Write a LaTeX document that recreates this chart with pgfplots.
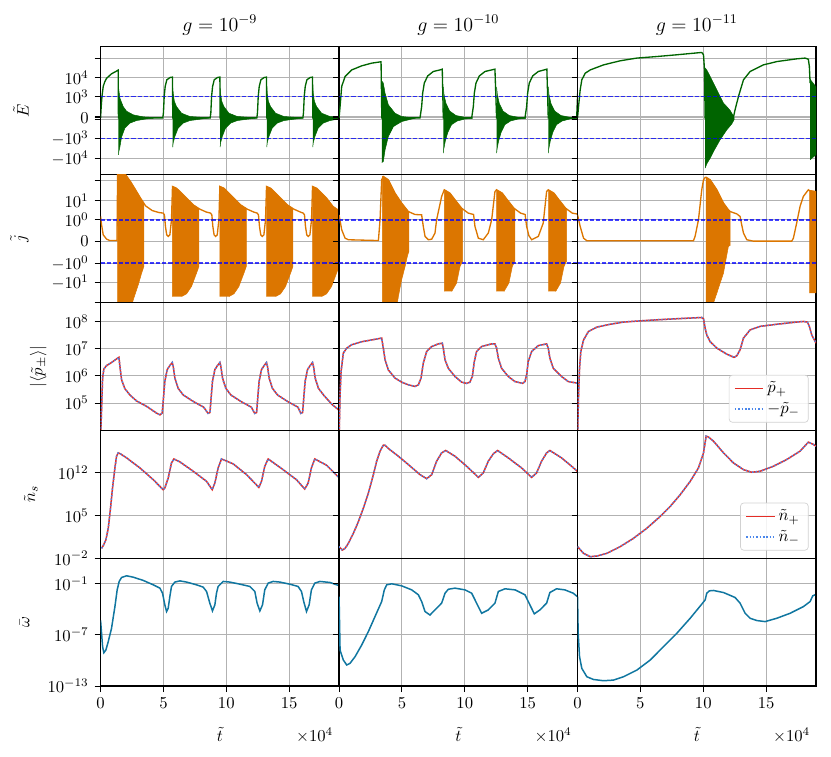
\documentclass[border=0pt]{standalone}
\usepackage{pgfplots}
\pgfplotsset{compat=1.18}
\usepgfplotslibrary{groupplots}

\definecolor{Egreen}{RGB}{0,100,0}
\definecolor{jorange}{RGB}{220,118,0}
\definecolor{pred}{RGB}{228,45,38}
\definecolor{pblue}{RGB}{75,135,235}
\definecolor{wteal}{RGB}{16,118,160}
\definecolor{gridgray}{RGB}{178,178,178}

% rows 1 and 2 are symlog axes: y is stored in symlog units
% (0 -> 0, +-10^k -> +-(k-2+0.08) for E, +-(k+1.1) for j)
\pgfplotsset{
  panel/.style={width=143.2pt, height=76.8pt, scale only axis,
    xmin=0, xmax=18.97, xtick={0,5,10,15}, xticklabels={}, yticklabels={},
    grid=major, grid style={color=gridgray, line width=0.6pt},
    tick align=outside, tick pos=left, major tick length=3.6pt,
    minor tick length=0pt, tick style={black, line width=0.6pt},
    axis line style={line width=0.8pt}, clip mode=individual,
    title style={font=\large, yshift=-2.5pt},
    legend style={at={(0.969,0.06)}, anchor=south east, draw=black!18,
      rounded corners=2pt, fill=white, fill opacity=0.85, text opacity=1,
      font=\normalsize, inner xsep=3pt, inner ysep=2pt, row sep=0pt},
    legend cell align=left},
  Erow/.style={/pgfplots/ymin=-2.92, /pgfplots/ymax=3.67,
    /pgfplots/ytick={-2.08,-1.08,-0.09,0,0.09,1.08,2.08,3.08}},
  Elab/.style={/pgfplots/ylabel={$\tilde{E}$},
    /pgfplots/ylabel style={at={(ticklabel cs:0.5,7pt)}},
    /pgfplots/yticklabels={{$-10^{4}$},{$-10^{3}$},{},{$0$},{},{$10^{3}$},{$10^{4}$},{}}},
  Jrow/.style={/pgfplots/ymin=-3.11, /pgfplots/ymax=3.42, /pgfplots/ytick={-3.1,-2.1,-1.1,0,1.1,2.1,3.1}},
  Jlab/.style={/pgfplots/ylabel={$\tilde{j}$},
    /pgfplots/ylabel style={at={(ticklabel cs:0.5,7pt)}},
    /pgfplots/yticklabels={{},{$-10^{1}$},{$-10^{0}$},{$0$},{$10^{0}$},{$10^{1}$},{}}},
  Prow/.style={/pgfplots/ymin=1e4, /pgfplots/ymax=5e8, /pgfplots/ytick={1e5,1e6,1e7,1e8}},
  Plab/.style={/pgfplots/ylabel={$|\langle\tilde{p}_\pm\rangle|$},
    /pgfplots/ylabel style={at={(ticklabel cs:0.5,4pt)}},
    /pgfplots/yticklabels={$10^{5}$,$10^{6}$,$10^{7}$,$10^{8}$}},
  Nrow/.style={/pgfplots/ymin=1e-2, /pgfplots/ymax=1e19, /pgfplots/ytick={1e-2,1e5,1e12}},
  Nlab/.style={/pgfplots/ylabel={$\tilde{n}_s$},
    /pgfplots/ylabel style={at={(ticklabel cs:0.5,3pt)}},
    /pgfplots/yticklabels={$10^{-2}$,$10^{5}$,$10^{12}$}},
  Wrow/.style={/pgfplots/ymin=1e-13, /pgfplots/ymax=1e2, /pgfplots/ytick={1e-13,1e-7,1e-1},
    /pgfplots/xticklabels={$0$,$5$,$10$,$15$}, /pgfplots/xlabel={$\tilde{t}$},
    /pgfplots/xlabel style={at={(axis description cs:0.5,0)}, anchor=base, yshift=-33.2pt}},
  Wlab/.style={/pgfplots/ylabel={$\bar{\omega}$},
    /pgfplots/ylabel style={at={(ticklabel cs:0.5,4pt)}},
    /pgfplots/yticklabels={$10^{-13}$,$10^{-7}$,$10^{-1}$}},
  Eline/.style={Egreen, line width=0.8pt},
  Efill/.style={fill=Egreen, draw=Egreen, line width=0.3pt},
  jline/.style={jorange, line width=0.8pt},
  jfill/.style={fill=jorange, draw=jorange, line width=0.3pt},
  thr/.style={blue, opacity=0.75, line width=0.7pt, dash pattern=on 2.5pt off 1.2pt},
  pl/.style={pred, line width=0.9pt},
  mi/.style={pblue, line width=0.9pt, dash pattern=on 0.8pt off 1.2pt},
  wl/.style={wteal, line width=0.9pt},
}

\begin{document}
\begin{tikzpicture}
\begin{groupplot}[group style={group size=3 by 5, horizontal sep=0pt, vertical sep=0pt}, panel]

% ---------------- row 1: E ----------------
\nextgroupplot[Erow, Elab, title={$g=10^{-9}$}]
\coordinate (TL) at (rel axis cs:0,1);
\addplot[Eline] coordinates {(0,0)(0.05,0.58)(0.11,1.10)(0.21,1.62)(0.34,1.87)(0.48,2.04)(0.87,2.27)(1.27,2.41)(1.40,2.46)(1.42,0)(4.95,0)(5.00,0.26)(5.06,1.1)(5.14,1.62)(5.27,1.96)(5.53,2.08)(5.72,2.10)(5.74,0)(8.72,0)(8.77,0.26)(8.83,1.1)(8.91,1.62)(9.04,1.96)(9.30,2.08)(9.49,2.10)(9.51,0)(12.43,0)(12.48,0.26)(12.54,1.1)(12.62,1.62)(12.75,1.96)(13.01,2.08)(13.20,2.10)(13.22,0)(16.09,0)(16.14,0.26)(16.20,1.1)(16.28,1.62)(16.41,1.96)(16.67,2.08)(16.86,2.10)(16.88,0)(18.97,0)};
\addplot[Efill] coordinates {(1.42,1.7)(1.45,1.44)(1.54,1.01)(1.80,0.58)(2.07,0.34)(2.60,0.155)(3.39,0.05)(4.19,0.017)(4.19,-0.02)(3.66,-0.05)(2.86,-0.14)(2.33,-0.27)(1.93,-0.53)(1.67,-0.99)(1.54,-1.48)(1.45,-1.75)(1.42,-1.91)};
\addplot[Efill] coordinates {(5.74,1.55)(5.77,1.27)(5.87,0.85)(6.04,0.58)(6.44,0.24)(7.10,0.07)(7.92,0.03)(8.62,0.01)(8.62,-0.01)(7.89,-0.07)(7.10,-0.14)(6.57,-0.27)(6.17,-0.53)(5.91,-0.96)(5.77,-1.3)(5.74,-1.51)};
\addplot[Efill] coordinates {(9.51,1.55)(9.54,1.27)(9.64,0.85)(9.81,0.58)(10.21,0.24)(10.87,0.07)(11.69,0.03)(12.39,0.01)(12.39,-0.01)(11.66,-0.07)(10.87,-0.14)(10.34,-0.27)(9.94,-0.53)(9.68,-0.96)(9.54,-1.3)(9.51,-1.51)};
\addplot[Efill] coordinates {(13.22,1.55)(13.25,1.27)(13.35,0.85)(13.52,0.58)(13.92,0.24)(14.58,0.07)(15.40,0.03)(16.10,0.01)(16.10,-0.01)(15.37,-0.07)(14.58,-0.14)(14.05,-0.27)(13.65,-0.53)(13.39,-0.96)(13.25,-1.3)(13.22,-1.51)};
\addplot[Efill] coordinates {(16.88,1.55)(16.91,1.27)(17.01,0.85)(17.18,0.58)(17.58,0.24)(18.24,0.07)(19.0,0.03)(19.0,-0.05)(18.24,-0.14)(17.71,-0.27)(17.31,-0.53)(17.05,-0.96)(16.91,-1.3)(16.88,-1.51)};
\addplot[thr] coordinates {(0,1.08)(18.97,1.08)};
\addplot[thr] coordinates {(0,-1.08)(18.97,-1.08)};

\nextgroupplot[Erow, title={$g=10^{-10}$}]
\addplot[Eline] coordinates {(0,0)(0.08,0.58)(0.21,1.62)(0.48,2.13)(1.01,2.47)(1.80,2.68)(2.60,2.82)(3.34,2.89)(3.40,0)(6.44,0)(6.57,0.58)(6.65,1.27)(6.78,1.79)(7.05,2.16)(7.50,2.39)(8.03,2.47)(8.21,2.51)(8.29,0)(10.55,0)(10.68,0.58)(10.76,1.27)(10.89,1.79)(11.16,2.16)(11.61,2.39)(12.14,2.47)(12.40,2.51)(12.53,0)(14.79,0)(14.92,0.58)(15.0,1.27)(15.13,1.79)(15.40,2.16)(15.85,2.39)(16.32,2.47)(16.53,2.51)(16.64,0)(18.90,0)(18.95,0.8)(18.99,1.4)};
\addplot[Efill] coordinates {(3.40,1.9)(3.52,1.79)(3.66,1.27)(3.92,0.67)(4.45,0.24)(4.98,0.07)(5.78,0.01)(6.04,-0.02)(4.98,-0.19)(4.32,-0.45)(3.92,-0.96)(3.66,-1.65)(3.52,-2.25)(3.40,-2.3)};
\addplot[Efill] coordinates {(8.29,1.6)(8.35,1.2)(8.5,0.75)(8.8,0.35)(9.3,0.12)(10.0,0.03)(10.6,0.01)(10.6,-0.02)(10.0,-0.06)(9.4,-0.16)(8.95,-0.35)(8.65,-0.75)(8.45,-1.2)(8.33,-1.6)(8.29,-1.82)};
\addplot[Efill] coordinates {(12.53,1.6)(12.59,1.2)(12.74,0.75)(13.04,0.35)(13.54,0.12)(14.24,0.03)(14.84,0.01)(14.84,-0.02)(14.24,-0.06)(13.64,-0.16)(13.19,-0.35)(12.89,-0.75)(12.69,-1.2)(12.57,-1.6)(12.53,-1.82)};
\addplot[Efill] coordinates {(16.64,1.6)(16.70,1.2)(16.85,0.75)(17.15,0.35)(17.65,0.12)(18.35,0.03)(18.95,0.01)(18.95,-0.02)(18.35,-0.06)(17.75,-0.16)(17.30,-0.35)(17.0,-0.75)(16.80,-1.2)(16.68,-1.6)(16.64,-1.82)};
\addplot[thr] coordinates {(0,1.08)(18.97,1.08)};
\addplot[thr] coordinates {(0,-1.08)(18.97,-1.08)};

\nextgroupplot[Erow, title={$g=10^{-11}$}]
\addplot[Eline] coordinates {(0,0)(0.08,0.58)(0.21,1.44)(0.34,1.96)(0.61,2.30)(1.01,2.47)(2.07,2.73)(3.39,2.94)(4.72,3.08)(6.31,3.16)(7.90,3.25)(9.22,3.33)(9.88,3.37)(10.02,3.25)(10.10,2.47)(10.15,0)(12.40,0.03)(12.53,0.41)(12.80,1.10)(13.20,1.96)(13.73,2.39)(14.79,2.73)(15.85,2.90)(17.43,3.04)(18.10,3.08)(18.36,3.02)(18.44,2.65)(18.50,1.79)};
\addplot[Efill] coordinates {(10.15,2.56)(10.28,2.47)(10.55,2.13)(10.81,1.79)(11.08,1.44)(11.34,1.10)(11.61,0.76)(11.87,0.58)(12.14,0.38)(12.35,0.15)(12.45,0)(12.45,-0.1)(12.27,-0.31)(11.87,-0.62)(11.34,-1.13)(10.81,-1.74)(10.55,-2.08)(10.28,-2.37)(10.15,-2.59)};
\addplot[Efill] coordinates {(18.50,2.0)(18.6,1.9)(18.97,1.6)(18.97,-1.9)(18.6,-2.1)(18.50,-2.16)};
\addplot[thr] coordinates {(0,1.08)(18.97,1.08)};
\addplot[thr] coordinates {(0,-1.08)(18.97,-1.08)};

% ---------------- row 2: j ----------------
\nextgroupplot[Jrow, Jlab]
\addplot[jline] coordinates {(0,1.28)(0.08,0.85)(0.21,0.34)(0.48,0.12)(0.74,0.05)(1.30,0.05)(1.36,3.6)(1.98,3.42)(2.38,3.06)(2.78,2.64)(3.18,2.21)(3.58,1.82)(4.11,1.58)(4.64,1.48)(4.98,1.45)(5.08,1.36)(5.16,0.77)(5.26,0.34)(5.38,0.26)(5.51,0.34)(5.64,1.11)(5.72,2.81)(6.04,2.72)(6.44,2.47)(6.84,2.21)(7.37,1.87)(7.90,1.65)(8.43,1.50)(8.75,1.45)(8.85,1.36)(8.93,0.77)(9.03,0.34)(9.15,0.26)(9.28,0.34)(9.41,1.11)(9.49,2.81)(9.81,2.72)(10.21,2.47)(10.61,2.21)(11.14,1.87)(11.67,1.65)(12.20,1.50)(12.46,1.45)(12.56,1.36)(12.64,0.77)(12.74,0.34)(12.86,0.26)(12.99,0.34)(13.12,1.11)(13.20,2.81)(13.52,2.72)(13.92,2.47)(14.32,2.21)(14.85,1.87)(15.38,1.65)(15.91,1.50)(16.12,1.45)(16.22,1.36)(16.30,0.77)(16.40,0.34)(16.52,0.26)(16.65,0.34)(16.78,1.11)(16.86,2.81)(17.18,2.72)(17.58,2.47)(17.98,2.21)(18.51,1.75)(18.97,1.5)};
\addplot[jfill] coordinates {(1.36,-3.6)(1.36,3.6)(1.98,3.42)(2.38,3.06)(2.78,2.64)(3.18,2.21)(3.44,1.95)(3.44,-1.28)(3.26,-1.62)(3.0,-2.21)(2.60,-2.98)(2.38,-3.49)(2.2,-3.6)};
\addplot[jfill] coordinates {(5.72,-2.81)(5.72,2.81)(6.04,2.72)(6.44,2.47)(6.84,2.21)(7.37,1.87)(7.82,1.67)(7.82,-1.28)(7.63,-1.62)(7.23,-2.30)(6.84,-2.67)(6.44,-2.81)};
\addplot[jfill] coordinates {(9.49,-2.81)(9.49,2.81)(9.81,2.72)(10.21,2.47)(10.61,2.21)(11.14,1.87)(11.59,1.67)(11.59,-1.28)(11.40,-1.62)(11.00,-2.30)(10.61,-2.67)(10.21,-2.81)};
\addplot[jfill] coordinates {(13.20,-2.81)(13.20,2.81)(13.52,2.72)(13.92,2.47)(14.32,2.21)(14.85,1.87)(15.30,1.67)(15.30,-1.28)(15.11,-1.62)(14.71,-2.30)(14.32,-2.67)(13.92,-2.81)};
\addplot[jfill] coordinates {(16.86,-2.81)(16.86,2.81)(17.18,2.72)(17.58,2.47)(17.98,2.21)(18.51,1.80)(18.97,1.6)(18.97,-1.28)(18.77,-1.62)(18.37,-2.30)(17.98,-2.67)(17.58,-2.81)};
\addplot[thr] coordinates {(0,1.1)(18.97,1.1)};
\addplot[thr] coordinates {(0,-1.1)(18.97,-1.1)};

\nextgroupplot[Jrow]
\addplot[jline] coordinates {(0,1.36)(0.21,0.60)(0.48,0.17)(0.74,0.09)(3.13,0.05)(3.26,1.11)(3.39,3.15)(3.52,3.32)(3.92,3.15)(4.45,2.47)(4.98,1.96)(5.51,1.53)(6.04,1.38)(6.57,1.36)(6.70,0.77)(6.84,0.26)(7.10,0.09)(7.37,0.12)(7.63,0.43)(7.76,1.11)(8.16,2.30)(8.37,2.64)(8.82,2.47)(9.22,2.13)(9.75,1.70)(10.28,1.45)(10.7,1.38)(10.81,0.77)(11.08,0.17)(11.47,0.09)(11.87,0.43)(12.14,1.11)(12.40,2.55)(12.53,2.64)(12.98,2.47)(13.38,2.13)(13.91,1.70)(14.44,1.45)(14.8,1.38)(14.92,0.77)(15.10,0.3)(15.32,0.09)(15.85,0.26)(16.24,0.94)(16.51,2.55)(16.64,2.64)(17.09,2.47)(17.49,2.13)(18.02,1.70)(18.55,1.45)(18.97,1.40)};
\addplot[jfill] coordinates {(3.45,-3.5)(3.45,3.32)(3.52,3.32)(3.92,3.15)(4.45,2.47)(4.98,1.96)(5.51,1.53)(5.56,1.52)(5.56,-0.51)(5.46,-0.68)(5.25,-1.28)(4.98,-1.95)(4.72,-2.8)(4.55,-3.5)};
\addplot[jfill] coordinates {(8.37,-2.55)(8.37,2.64)(8.82,2.47)(9.22,2.13)(9.75,1.70)(9.83,1.66)(9.83,-1.0)(9.62,-1.28)(9.35,-2.12)(8.96,-2.55)};
\addplot[jfill] coordinates {(12.53,-2.55)(12.53,2.64)(12.98,2.47)(13.38,2.13)(13.91,1.70)(13.99,1.66)(13.99,-1.0)(13.78,-1.28)(13.51,-2.12)(13.12,-2.55)};
\addplot[jfill] coordinates {(16.64,-2.55)(16.64,2.64)(17.09,2.47)(17.49,2.13)(18.02,1.70)(18.10,1.66)(18.10,-1.0)(17.89,-1.28)(17.62,-2.12)(17.23,-2.55)};
\addplot[thr] coordinates {(0,1.1)(18.97,1.1)};
\addplot[thr] coordinates {(0,-1.1)(18.97,-1.1)};

\nextgroupplot[Jrow]
\addplot[jline] coordinates {(0,1.36)(0.21,0.77)(0.48,0.17)(0.74,0.04)(9.22,0.04)(9.35,0.26)(9.62,1.11)(9.88,2.64)(10.02,3.15)(10.15,3.27)(10.23,3.28)(10.55,3.15)(11.08,2.64)(11.61,1.96)(12.0,1.62)(12.14,1.53)(12.67,1.41)(12.93,1.28)(13.06,0.85)(13.20,0.43)(13.46,0.09)(13.99,0.02)(17.04,0.02)(17.17,0.17)(17.43,0.94)(17.70,1.79)(17.96,2.30)(18.36,2.64)(18.44,2.60)(18.97,2.55)};
\addplot[jfill] coordinates {(10.23,-3.4)(10.23,3.28)(10.55,3.15)(11.08,2.64)(11.61,1.96)(12.0,1.62)(12.14,1.53)(12.14,-0.2)(12.0,-0.25)(11.61,-1.61)(11.08,-2.64)(10.68,-3.4)};
\addplot[jfill] coordinates {(18.47,-2.64)(18.47,2.6)(18.97,2.55)(18.97,-2.64)};
\addplot[thr] coordinates {(0,1.1)(18.97,1.1)};
\addplot[thr] coordinates {(0,-1.1)(18.97,-1.1)};

% ---------------- row 3: p ----------------
\nextgroupplot[ymode=log, Prow, Plab]
\addplot[pl] coordinates {(0,5e3)(0.16,8.3e5)(0.26,1.8e6)(0.48,2.4e6)(0.87,3.1e6)(1.27,4.2e6)(1.46,4.8e6)(1.54,2.2e6)(1.67,7.2e5)(1.93,3.4e5)(2.33,2.0e5)(2.86,1.2e5)(3.66,7.6e4)(4.45,4.3e4)(4.72,3.7e4)(4.90,4.3e4)(4.98,1.15e5)(5.11,6.3e5)(5.30,1.7e6)(5.51,2.4e6)(5.70,3.1e6)(5.78,2.2e6)(5.91,8.3e5)(6.17,3.5e5)(6.57,2.0e5)(7.37,1.15e5)(8.20,7.1e4)(8.55,4.2e4)(8.70,4.5e4)(8.77,1.15e5)(8.90,6.3e5)(9.09,1.7e6)(9.30,2.4e6)(9.49,3.1e6)(9.57,2.2e6)(9.70,8.3e5)(9.96,3.5e5)(10.36,2.0e5)(11.16,1.15e5)(11.99,7.1e4)(12.26,4.2e4)(12.41,4.5e4)(12.48,1.15e5)(12.61,6.3e5)(12.80,1.7e6)(13.01,2.4e6)(13.20,3.1e6)(13.28,2.2e6)(13.41,8.3e5)(13.67,3.5e5)(14.07,2.0e5)(14.87,1.15e5)(15.70,7.1e4)(15.92,4.2e4)(16.07,4.5e4)(16.14,1.15e5)(16.27,6.3e5)(16.46,1.7e6)(16.67,2.4e6)(16.86,3.1e6)(16.94,2.2e6)(17.07,8.3e5)(17.33,3.5e5)(17.73,2.0e5)(18.40,9e4)(18.97,5.5e4)};
\addplot[mi] coordinates {(0,5e3)(0.16,8.3e5)(0.26,1.8e6)(0.48,2.4e6)(0.87,3.1e6)(1.27,4.2e6)(1.46,4.8e6)(1.54,2.2e6)(1.67,7.2e5)(1.93,3.4e5)(2.33,2.0e5)(2.86,1.2e5)(3.66,7.6e4)(4.45,4.3e4)(4.72,3.7e4)(4.90,4.3e4)(4.98,1.15e5)(5.11,6.3e5)(5.30,1.7e6)(5.51,2.4e6)(5.70,3.1e6)(5.78,2.2e6)(5.91,8.3e5)(6.17,3.5e5)(6.57,2.0e5)(7.37,1.15e5)(8.20,7.1e4)(8.55,4.2e4)(8.70,4.5e4)(8.77,1.15e5)(8.90,6.3e5)(9.09,1.7e6)(9.30,2.4e6)(9.49,3.1e6)(9.57,2.2e6)(9.70,8.3e5)(9.96,3.5e5)(10.36,2.0e5)(11.16,1.15e5)(11.99,7.1e4)(12.26,4.2e4)(12.41,4.5e4)(12.48,1.15e5)(12.61,6.3e5)(12.80,1.7e6)(13.01,2.4e6)(13.20,3.1e6)(13.28,2.2e6)(13.41,8.3e5)(13.67,3.5e5)(14.07,2.0e5)(14.87,1.15e5)(15.70,7.1e4)(15.92,4.2e4)(16.07,4.5e4)(16.14,1.15e5)(16.27,6.3e5)(16.46,1.7e6)(16.67,2.4e6)(16.86,3.1e6)(16.94,2.2e6)(17.07,8.3e5)(17.33,3.5e5)(17.73,2.0e5)(18.40,9e4)(18.97,5.5e4)};

\nextgroupplot[ymode=log, Prow]
\addplot[pl] coordinates {(0,5e3)(0.08,2.0e5)(0.16,1.45e6)(0.34,6.9e6)(0.61,1.05e7)(1.01,1.4e7)(1.80,1.8e7)(2.60,2.1e7)(3.39,2.45e7)(3.52,1.05e7)(3.66,3.9e6)(3.92,1.66e6)(4.45,8.3e5)(4.98,5.9e5)(5.51,4.7e5)(6.04,4.1e5)(6.31,4.7e5)(6.52,8.3e5)(6.70,2.95e6)(6.97,7.9e6)(7.37,1.2e7)(7.90,1.5e7)(8.21,1.6e7)(8.29,1.05e7)(8.43,3.9e6)(8.69,1.9e6)(9.22,9.5e5)(9.75,5.9e5)(10.15,5.3e5)(10.41,5.9e5)(10.60,9.5e5)(10.76,3.4e6)(10.94,7.9e6)(11.34,1.2e7)(12.14,1.5e7)(12.40,1.5e7)(12.53,1.05e7)(12.67,4.5e6)(12.93,1.9e6)(13.46,9.5e5)(13.99,6.2e5)(14.60,5.3e5)(14.79,6.2e5)(14.92,1.1e6)(15.05,3.4e6)(15.32,7.9e6)(15.85,1.3e7)(16.51,1.5e7)(16.64,1.05e7)(16.77,4.5e6)(17.04,1.9e6)(17.70,9.5e5)(18.23,6.2e5)(18.97,5.4e5)};
\addplot[mi] coordinates {(0,5e3)(0.08,2.0e5)(0.16,1.45e6)(0.34,6.9e6)(0.61,1.05e7)(1.01,1.4e7)(1.80,1.8e7)(2.60,2.1e7)(3.39,2.45e7)(3.52,1.05e7)(3.66,3.9e6)(3.92,1.66e6)(4.45,8.3e5)(4.98,5.9e5)(5.51,4.7e5)(6.04,4.1e5)(6.31,4.7e5)(6.52,8.3e5)(6.70,2.95e6)(6.97,7.9e6)(7.37,1.2e7)(7.90,1.5e7)(8.21,1.6e7)(8.29,1.05e7)(8.43,3.9e6)(8.69,1.9e6)(9.22,9.5e5)(9.75,5.9e5)(10.15,5.3e5)(10.41,5.9e5)(10.60,9.5e5)(10.76,3.4e6)(10.94,7.9e6)(11.34,1.2e7)(12.14,1.5e7)(12.40,1.5e7)(12.53,1.05e7)(12.67,4.5e6)(12.93,1.9e6)(13.46,9.5e5)(13.99,6.2e5)(14.60,5.3e5)(14.79,6.2e5)(14.92,1.1e6)(15.05,3.4e6)(15.32,7.9e6)(15.85,1.3e7)(16.51,1.5e7)(16.64,1.05e7)(16.77,4.5e6)(17.04,1.9e6)(17.70,9.5e5)(18.23,6.2e5)(18.97,5.4e5)};

\nextgroupplot[ymode=log, Prow]
\addplot[pl] coordinates {(0,5e3)(0.08,2.0e5)(0.16,1.9e6)(0.26,7.9e6)(0.48,2.1e7)(0.87,4.3e7)(1.54,6.2e7)(2.60,7.9e7)(3.66,9.5e7)(4.98,1.05e8)(6.31,1.15e8)(7.90,1.26e8)(9.22,1.35e8)(9.88,1.4e8)(10.02,1.26e8)(10.15,5.6e7)(10.28,3.2e7)(10.55,1.8e7)(11.08,1.05e7)(11.87,6.3e6)(12.45,4.8e6)(12.67,5.5e6)(12.93,9.1e6)(13.20,2.45e7)(13.73,4.9e7)(14.52,6.6e7)(15.85,7.9e7)(17.43,9.5e7)(17.96,1.0e8)(18.28,9.5e7)(18.44,6.6e7)(18.63,3.2e7)(18.97,1.6e7)};
\addplot[mi] coordinates {(0,5e3)(0.08,2.0e5)(0.16,1.9e6)(0.26,7.9e6)(0.48,2.1e7)(0.87,4.3e7)(1.54,6.2e7)(2.60,7.9e7)(3.66,9.5e7)(4.98,1.05e8)(6.31,1.15e8)(7.90,1.26e8)(9.22,1.35e8)(9.88,1.4e8)(10.02,1.26e8)(10.15,5.6e7)(10.28,3.2e7)(10.55,1.8e7)(11.08,1.05e7)(11.87,6.3e6)(12.45,4.8e6)(12.67,5.5e6)(12.93,9.1e6)(13.20,2.45e7)(13.73,4.9e7)(14.52,6.6e7)(15.85,7.9e7)(17.43,9.5e7)(17.96,1.0e8)(18.28,9.5e7)(18.44,6.6e7)(18.63,3.2e7)(18.97,1.6e7)};
\legend{$\tilde{p}_+$,$-\tilde{p}_-$}

% ---------------- row 4: n ----------------
\nextgroupplot[ymode=log, Nrow, Nlab]
\addplot[pl] coordinates {(0.08,0.42)(0.21,1.15)(0.42,10)(0.61,830)(0.79,1.66e6)(0.95,3.3e9)(1.14,6.7e12)(1.27,5.6e14)(1.40,2.0e15)(1.54,1.55e15)(2.07,3.0e14)(3.13,6.7e12)(4.19,7.9e10)(4.98,1.8e9)(5.11,3.3e9)(5.38,1.5e11)(5.64,4.5e13)(5.83,2.0e14)(6.31,6.6e13)(7.37,1.9e12)(8.43,4.2e10)(8.88,1.8e9)(9.09,2.2e10)(9.35,6.7e12)(9.62,2.0e14)(10.55,3.1e13)(11.61,5.3e11)(12.59,4.3e9)(12.80,4.2e10)(13.06,1.26e13)(13.33,2.0e14)(14.52,3.5e12)(15.58,7.9e10)(16.24,2.3e9)(16.51,2.2e10)(16.77,6.7e12)(17.04,2.0e14)(17.97,1.9e13)(18.95,1.9e11)};
\addplot[mi] coordinates {(0.08,0.42)(0.21,1.15)(0.42,10)(0.61,830)(0.79,1.66e6)(0.95,3.3e9)(1.14,6.7e12)(1.27,5.6e14)(1.40,2.0e15)(1.54,1.55e15)(2.07,3.0e14)(3.13,6.7e12)(4.19,7.9e10)(4.98,1.8e9)(5.11,3.3e9)(5.38,1.5e11)(5.64,4.5e13)(5.83,2.0e14)(6.31,6.6e13)(7.37,1.9e12)(8.43,4.2e10)(8.88,1.8e9)(9.09,2.2e10)(9.35,6.7e12)(9.62,2.0e14)(10.55,3.1e13)(11.61,5.3e11)(12.59,4.3e9)(12.80,4.2e10)(13.06,1.26e13)(13.33,2.0e14)(14.52,3.5e12)(15.58,7.9e10)(16.24,2.3e9)(16.51,2.2e10)(16.77,6.7e12)(17.04,2.0e14)(17.97,1.9e13)(18.95,1.9e11)};

\nextgroupplot[ymode=log, Nrow]
\addplot[pl] coordinates {(0,0.8)(0.08,0.54)(0.26,0.22)(0.48,0.42)(0.74,2.8)(1.14,126)(1.54,1.05e4)(1.93,1.66e6)(2.33,5.0e8)(2.73,5.3e11)(2.99,8.5e13)(3.26,3.8e15)(3.52,3.7e16)(3.66,3.5e16)(3.92,1.05e16)(4.72,5.6e14)(5.51,2.4e13)(6.44,5.3e11)(6.97,1.15e11)(7.37,5.3e11)(7.76,8.5e13)(8.16,2.0e15)(8.48,4.9e15)(9.22,5.6e14)(10.15,1.26e13)(11.08,1.9e11)(11.47,1.0e12)(11.87,8.5e13)(12.27,1.4e15)(12.61,4.9e15)(13.46,3.0e14)(14.52,6.7e12)(15.32,1.9e11)(15.71,1.0e12)(16.11,8.5e13)(16.51,2.0e15)(16.77,4.9e15)(17.70,3.0e14)(18.50,1.26e13)(18.95,1.9e12)};
\addplot[mi] coordinates {(0,0.8)(0.08,0.54)(0.26,0.22)(0.48,0.42)(0.74,2.8)(1.14,126)(1.54,1.05e4)(1.93,1.66e6)(2.33,5.0e8)(2.73,5.3e11)(2.99,8.5e13)(3.26,3.8e15)(3.52,3.7e16)(3.66,3.5e16)(3.92,1.05e16)(4.72,5.6e14)(5.51,2.4e13)(6.44,5.3e11)(6.97,1.15e11)(7.37,5.3e11)(7.76,8.5e13)(8.16,2.0e15)(8.48,4.9e15)(9.22,5.6e14)(10.15,1.26e13)(11.08,1.9e11)(11.47,1.0e12)(11.87,8.5e13)(12.27,1.4e15)(12.61,4.9e15)(13.46,3.0e14)(14.52,6.7e12)(15.32,1.9e11)(15.71,1.0e12)(16.11,8.5e13)(16.51,2.0e15)(16.77,4.9e15)(17.70,3.0e14)(18.50,1.26e13)(18.95,1.9e12)};

\nextgroupplot[ymode=log, Nrow]
\addplot[pl] coordinates {(0,0.8)(0.48,0.063)(1.01,0.018)(1.54,0.023)(2.33,0.063)(3.39,0.8)(4.45,18.6)(5.51,830)(6.57,7.1e4)(7.37,3.2e6)(8.16,2.6e8)(8.96,4.2e10)(9.62,6.7e12)(10.02,2.0e15)(10.23,1.1e18)(10.42,7.8e17)(10.81,1.7e17)(11.61,2.0e15)(12.40,4.5e13)(13.20,3.5e12)(13.86,1.3e12)(14.52,1.9e12)(15.58,1.26e13)(16.64,1.6e14)(17.70,3.8e15)(18.36,1.15e17)(18.76,4.8e16)(18.97,2.5e16)};
\addplot[mi] coordinates {(0,0.8)(0.48,0.063)(1.01,0.018)(1.54,0.023)(2.33,0.063)(3.39,0.8)(4.45,18.6)(5.51,830)(6.57,7.1e4)(7.37,3.2e6)(8.16,2.6e8)(8.96,4.2e10)(9.62,6.7e12)(10.02,2.0e15)(10.23,1.1e18)(10.42,7.8e17)(10.81,1.7e17)(11.61,2.0e15)(12.40,4.5e13)(13.20,3.5e12)(13.86,1.3e12)(14.52,1.9e12)(15.58,1.26e13)(16.64,1.6e14)(17.70,3.8e15)(18.36,1.15e17)(18.76,4.8e16)(18.97,2.5e16)};
\legend{$\tilde{n}_+$,$\tilde{n}_-$}

% ---------------- row 5: omega ----------------
\nextgroupplot[ymode=log, Wrow, Wlab]
\addplot[wl] coordinates {(0,5e-6)(0.16,4.3e-9)(0.26,8.3e-10)(0.42,1.7e-9)(0.61,1.66e-8)(0.87,6.0e-7)(1.14,2.1e-4)(1.32,1.95e-2)(1.48,0.19)(1.67,0.56)(2.07,0.87)(2.60,0.6)(3.39,0.25)(4.19,0.076)(4.72,0.031)(4.93,7.9e-3)(5.11,3.4e-4)(5.25,5.6e-5)(5.38,1.4e-4)(5.51,3.2e-3)(5.64,0.049)(5.91,0.16)(6.31,0.22)(6.84,0.16)(7.63,0.076)(8.16,0.041)(8.43,0.0126)(8.69,5.4e-4)(8.90,6.6e-5)(9.09,3.4e-4)(9.22,7.9e-3)(9.35,0.049)(9.75,0.19)(10.28,0.16)(11.08,0.091)(11.87,0.049)(12.27,0.0126)(12.45,5.4e-4)(12.67,6.6e-5)(12.88,3.4e-4)(13.06,0.0195)(13.33,0.12)(13.73,0.19)(14.26,0.16)(15.05,0.091)(15.71,0.049)(15.98,0.0126)(16.16,8.3e-4)(16.38,5.6e-5)(16.59,3.4e-4)(16.77,0.0195)(17.04,0.12)(17.44,0.19)(18.23,0.145)(18.95,0.063)};
\node[anchor=base east] at (rel axis cs:1,0) [yshift=-33.2pt] {$\times10^{4}$};

\nextgroupplot[ymode=log, Wrow]
\addplot[wl] coordinates {(0,3.2e-3)(0.08,1.7e-9)(0.34,1.15e-10)(0.61,3.0e-11)(0.87,4.7e-11)(1.27,2.8e-10)(1.80,6.6e-9)(2.33,2.5e-7)(2.86,1.45e-5)(3.39,8.3e-4)(3.60,0.0195)(3.79,0.076)(4.19,0.1)(4.98,0.058)(5.78,0.0195)(6.31,5.1e-3)(6.57,8.3e-4)(6.84,5.6e-5)(7.23,2.2e-5)(7.63,8.7e-5)(8.16,5.4e-4)(8.43,7.9e-3)(8.69,0.023)(9.22,0.031)(10.02,0.0195)(10.55,7.9e-3)(10.94,5.4e-4)(11.34,3.5e-5)(11.87,8.7e-5)(12.40,5.4e-4)(12.67,0.0126)(13.20,0.026)(14.0,0.0195)(14.79,5.1e-3)(15.18,3.4e-4)(15.53,3.0e-5)(15.98,8.7e-5)(16.51,5.4e-4)(16.77,9.5e-3)(17.30,0.026)(17.96,0.0195)(18.63,7.9e-3)(18.95,3.2e-3)};
\node[anchor=base east] at (rel axis cs:1,0) [yshift=-33.2pt] {$\times10^{4}$};

\nextgroupplot[ymode=log, Wrow]
\addplot[wl] coordinates {(0,3.2e-3)(0.05,1.6e-7)(0.16,2.8e-10)(0.34,1.2e-11)(0.74,1.26e-12)(1.27,6.0e-13)(2.07,4.3e-13)(2.86,5.1e-13)(3.66,1.26e-12)(4.72,7.6e-12)(5.78,1.15e-10)(6.84,4.3e-9)(7.90,1.6e-7)(8.96,9.1e-6)(9.88,4.1e-4)(10.15,1.3e-3)(10.28,7.9e-3)(10.49,0.015)(10.81,0.0166)(11.61,9.5e-3)(12.53,2.5e-3)(12.93,5.4e-4)(13.33,3.5e-5)(13.73,9.1e-6)(14.26,4.9e-6)(14.92,3.7e-6)(15.85,9.1e-6)(16.91,3.5e-5)(17.96,2.1e-4)(18.50,8.3e-4)(18.71,3.9e-3)(18.89,5.1e-3)};
\node[anchor=base east] at (rel axis cs:1,0) [yshift=-33.2pt] {$\times10^{4}$};
\coordinate (BR) at (rel axis cs:1,0);
\end{groupplot}
\pgfresetboundingbox
\path[use as bounding box] ([shift={(-60.4pt,28pt)}]TL) rectangle ([shift={(9pt,-42.2pt)}]BR);
\end{tikzpicture}
\end{document}
